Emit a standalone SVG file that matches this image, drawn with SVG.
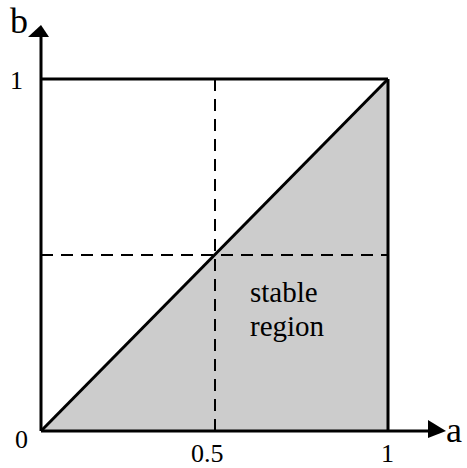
<svg xmlns="http://www.w3.org/2000/svg" width="467" height="468" viewBox="0 0 467 468">
<style>
.ln{stroke:#000;stroke-width:3;fill:none}
.dash{stroke:#000;stroke-width:2;stroke-dasharray:12 8;fill:none}
text{font-family:'Liberation Serif','DejaVu Serif',serif;fill:#000}
.num{font-size:26px}
.lab{font-size:36px}
.reg{font-size:29px}
</style>
<rect width="467" height="468" fill="#fff"/>
<g id="stable-region">
<polygon points="41,431 388,79 388,431" fill="#cccccc"/>
<text class="reg" x="250" y="302" font-family="Liberation Serif">stable</text>
<text class="reg" x="250" y="336" font-family="Liberation Serif">region</text>
</g>
<g id="connectors">
<line class="dash" x1="41" y1="255" x2="388" y2="255"/>
<line class="dash" x1="215" y1="79" x2="215" y2="431"/>
<line class="ln" x1="41" y1="79" x2="388" y2="79"/>
<line class="ln" x1="388" y1="79" x2="388" y2="431"/>
<line class="ln" x1="41" y1="431" x2="388" y2="79"/>
<line class="ln" x1="41" y1="431" x2="41" y2="36"/>
<line class="ln" x1="41" y1="431" x2="430" y2="431"/>
<polygon points="41,25 28,37 49,37" fill="#000"/>
<polygon points="428,420 446,431 428,438" fill="#000"/>
</g>
<g id="labels" font-family="Liberation Serif">
<text class="lab" x="10" y="33">b</text>
<text class="lab" x="446" y="442">a</text>
<text class="num" x="10" y="89">1</text>
<text class="num" x="15" y="448">0</text>
<text class="num" x="191" y="462">0.5</text>
<text class="num" x="381" y="462">1</text>
</g>
</svg>
